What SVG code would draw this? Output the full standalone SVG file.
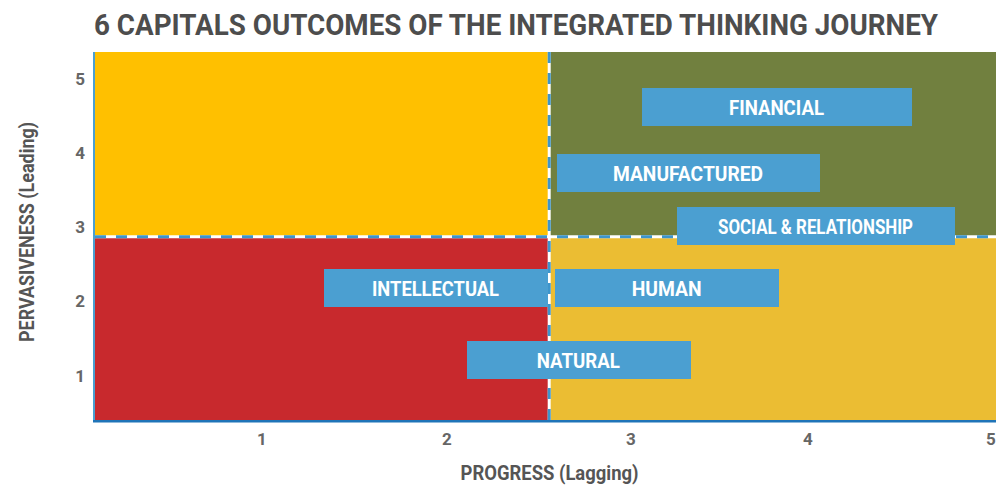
<svg xmlns="http://www.w3.org/2000/svg" width="996" height="485" viewBox="0 0 996 485">
  <style>
    .title { font-family: Roboto, "Liberation Sans", sans-serif; font-weight: 700; font-size: 29px; fill: #4d4d4d; }
    .axt { font-family: Roboto, "Liberation Sans", sans-serif; font-weight: 700; font-size: 21px; fill: #555555; text-anchor: middle; }
    .tick { font-family: Roboto, "Liberation Sans", sans-serif; font-weight: 700; font-size: 17px; fill: #666666; text-anchor: middle; }
    .ytick { text-anchor: end; }
    .box { fill: #4b9fd1; }
    .lbl { font-family: Roboto, "Liberation Sans", sans-serif; font-weight: 700; font-size: 21px; fill: #ffffff; text-anchor: middle; }
    .dash-bg { stroke: #ffffff; stroke-width: 3; fill: none; }
    .dash { stroke: #3d95cc; stroke-width: 3; fill: none; stroke-dasharray: 11 10; }
  </style>

  <text class="title" x="94" y="35" textLength="844" lengthAdjust="spacingAndGlyphs">6 CAPITALS OUTCOMES OF THE INTEGRATED THINKING JOURNEY</text>

  <g id="quadrants">
    <rect x="95" y="52" width="454" height="185" fill="#ffc000"/>
    <rect x="549" y="52" width="447" height="185" fill="#71803f"/>
    <rect x="95" y="237" width="454" height="184" fill="#c8292d"/>
    <rect x="549" y="237" width="447" height="184" fill="#ebbd33"/>
  </g>

  <g id="axes">
    <line x1="94" y1="52" x2="94" y2="421" stroke="#4b9fd1" stroke-width="2"/>
    <line x1="93" y1="421.3" x2="996" y2="421.3" stroke="#1f74b8" stroke-width="2.6"/>
    <text class="tick" x="262" y="445">1</text>
    <text class="tick" x="447" y="445">2</text>
    <text class="tick" x="631" y="445">3</text>
    <text class="tick" x="808" y="445">4</text>
    <text class="tick" x="991" y="445">5</text>
    <text class="tick ytick" x="85" y="85">5</text>
    <text class="tick ytick" x="85" y="159">4</text>
    <text class="tick ytick" x="85" y="233">3</text>
    <text class="tick ytick" x="85" y="307">2</text>
    <text class="tick ytick" x="85" y="382">1</text>
    <text class="axt" x="549.5" y="480" textLength="178" lengthAdjust="spacingAndGlyphs">PROGRESS (Lagging)</text>
    <text class="axt" transform="translate(34,232) rotate(-90)" x="0" y="0" textLength="220" lengthAdjust="spacingAndGlyphs">PERVASIVENESS (Leading)</text>
  </g>

  <g id="connectors">
    <line class="dash-bg" x1="95" y1="236.7" x2="996" y2="236.7"/>
    <line class="dash" x1="95" y1="236.7" x2="996" y2="236.7"/>
    <line class="dash-bg" x1="549.2" y1="52" x2="549.2" y2="420"/>
    <line class="dash" x1="549.2" y1="52" x2="549.2" y2="420"/>
  </g>

  <g id="financial">
    <rect class="box" x="642" y="88" width="270" height="38"/>
    <text class="lbl" x="776.5" y="115" textLength="95" lengthAdjust="spacingAndGlyphs">FINANCIAL</text>
  </g>
  <g id="manufactured">
    <rect class="box" x="557" y="154" width="263" height="38"/>
    <text class="lbl" x="688" y="181" textLength="150" lengthAdjust="spacingAndGlyphs">MANUFACTURED</text>
  </g>
  <g id="social">
    <rect class="box" x="677" y="207" width="278" height="38"/>
    <text class="lbl" x="815.5" y="234" textLength="195" lengthAdjust="spacingAndGlyphs">SOCIAL &amp; RELATIONSHIP</text>
  </g>
  <g id="intellectual">
    <rect class="box" x="324" y="269" width="224" height="38"/>
    <text class="lbl" x="435.5" y="296" textLength="127" lengthAdjust="spacingAndGlyphs">INTELLECTUAL</text>
  </g>
  <g id="human">
    <rect class="box" x="555" y="269" width="224" height="38"/>
    <text class="lbl" x="666.7" y="296" textLength="70" lengthAdjust="spacingAndGlyphs">HUMAN</text>
  </g>
  <g id="natural">
    <rect class="box" x="467" y="341" width="224" height="38"/>
    <text class="lbl" x="578.3" y="367.5" textLength="83" lengthAdjust="spacingAndGlyphs">NATURAL</text>
  </g>
</svg>
